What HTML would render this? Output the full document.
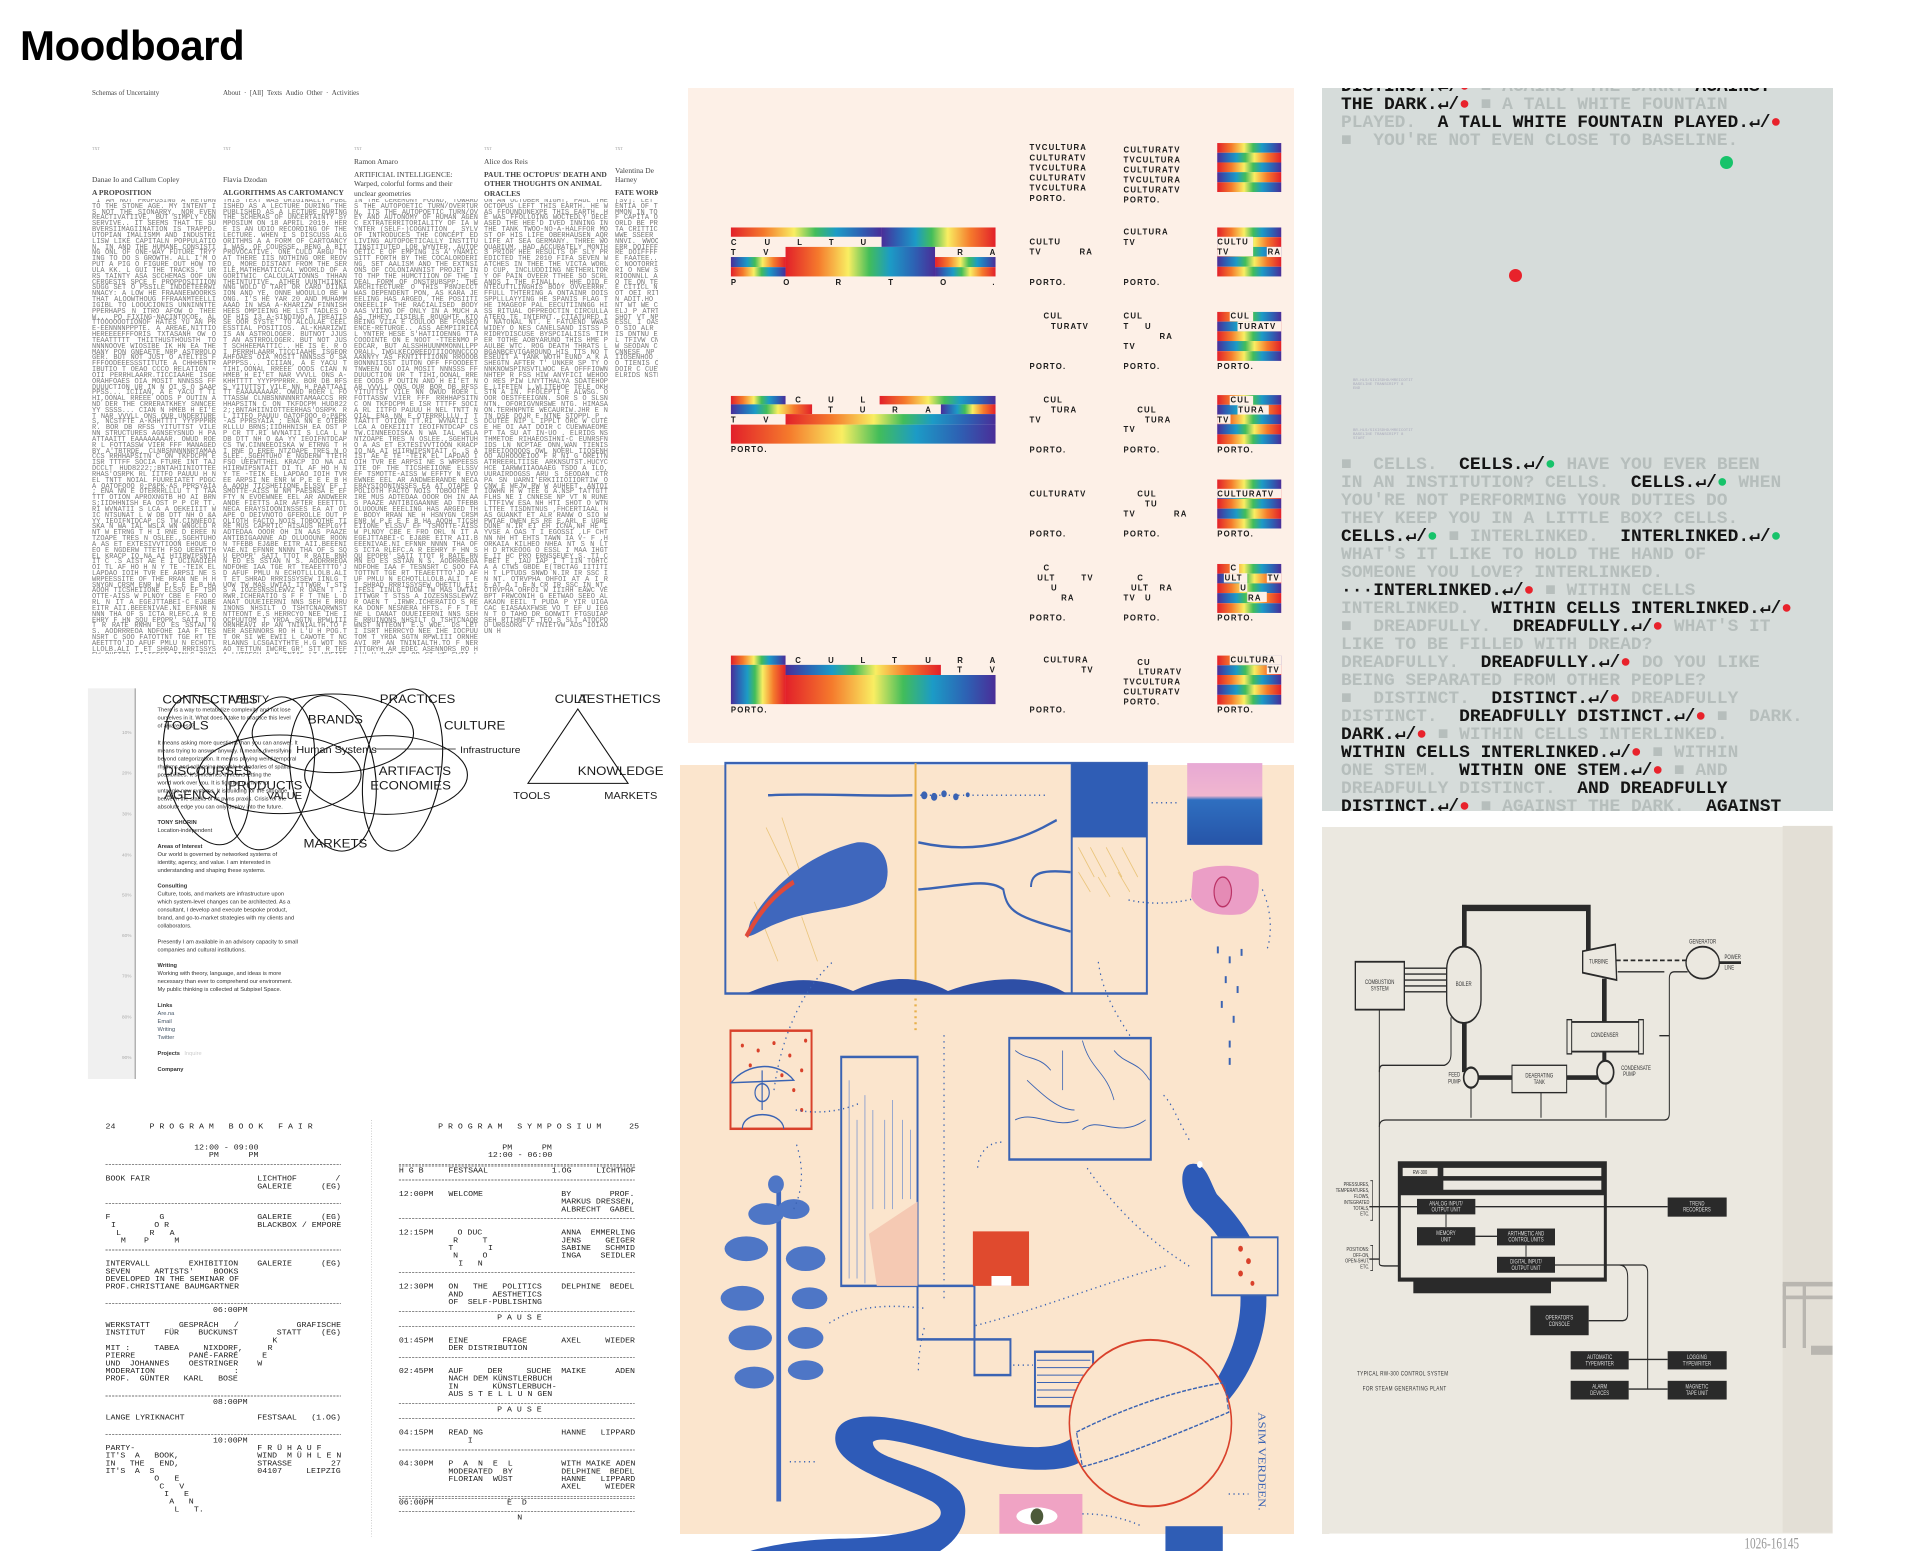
<!DOCTYPE html>
<html><head><meta charset="utf-8">
<style>
*{margin:0;padding:0;box-sizing:border-box}
body{width:1920px;height:1560px;background:#fff;position:relative;overflow:hidden;font-family:"Liberation Sans",sans-serif}
.abs{position:absolute}
h1{position:absolute;left:20px;top:22px;font:bold 42px "Liberation Sans",sans-serif;color:#000;letter-spacing:-0.5px}
.col{position:absolute;top:199px;width:124px;height:455px;overflow:hidden;font:7px/5.83px "Liberation Mono",monospace;color:#7a7a7a;word-break:break-all;text-align:justify}
.ser{position:absolute;font-family:"Liberation Serif",serif;color:#444;white-space:nowrap}
#gray{position:absolute;left:1322px;top:88px;width:511px;height:723px;background:#d6dcda;overflow:hidden}
#gray pre{position:absolute;left:19px;top:-10px;font:bold 17.9px/18px "Liberation Mono","DejaVu Sans Mono",monospace;color:#141414;white-space:pre}
#gray .g{color:#b6bebc}
#gray .r{color:#e8222b}
#gray .n{color:#17c36a}
svg{position:absolute;overflow:visible}
svg text{white-space:pre}
</style></head><body>
<h1>Moodboard</h1>

<!-- Panel 1: text website -->
<div class="abs" style="left:88px;top:88px;width:570px;height:592px;background:#fff"></div>
<div class="ser" style="left:92px;top:89px;font-size:7px">Schemas of Uncertainty</div>
<div class="ser" style="left:223px;top:89px;font-size:7px">About &nbsp;· &nbsp;[All] &nbsp;Texts &nbsp;Audio &nbsp;Other &nbsp;· &nbsp;Activities</div>
<div class="ser" style="left:92px;top:146px;font-size:4px;color:#999">TXT</div>
<div class="ser" style="left:223px;top:146px;font-size:4px;color:#999">TXT</div>
<div class="ser" style="left:354px;top:146px;font-size:4px;color:#999">TXT</div>
<div class="ser" style="left:484px;top:146px;font-size:4px;color:#999">TXT</div>
<div class="ser" style="left:615px;top:146px;font-size:4px;color:#999">TXT</div>
<div class="ser" style="left:92px;top:175px;font-size:7.5px">Danae Io and Callum Copley</div>
<div class="ser" style="left:92px;top:188px;font-size:7.5px;font-weight:bold">A PROPOSITION</div>
<div class="ser" style="left:223px;top:175px;font-size:7.5px">Flavia Dzodan</div>
<div class="ser" style="left:223px;top:188px;font-size:7.5px;font-weight:bold">ALGORITHMS AS CARTOMANCY</div>
<div class="ser" style="left:354px;top:157px;font-size:7.5px">Ramon Amaro</div>
<div class="ser" style="left:354px;top:170px;font-size:7.5px;line-height:9.3px">ARTIFICIAL INTELLIGENCE:<br>Warped, colorful forms and their<br>unclear geometries</div>
<div class="ser" style="left:484px;top:157px;font-size:7.5px">Alice dos Reis</div>
<div class="ser" style="left:484px;top:170px;font-size:7.5px;line-height:9.3px;font-weight:bold">PAUL THE OCTOPUS' DEATH AND<br>OTHER THOUGHTS ON ANIMAL<br>ORACLES</div>
<div class="abs" style="left:615px;top:0;width:43px;height:700px;overflow:hidden">
<div class="ser" style="left:0;top:166px;font-size:7.5px;line-height:9.3px">Valentina De<br>Harney</div>
<div class="ser" style="left:0;top:188px;font-size:7.5px;font-weight:bold">FATE WORK</div>
</div>
<div class="col" style="left:92px">"I AM NOT PROPOSING A RETURN TO THE STONE AGE. MY INTENT IS NOT THE SIONARRY, NOR EVEN REACTIVATIIVE, BUT SIMPLY CONSERVIVE.. IT SEEMS THAT TE SUBVERSIIMAGIINATION IS TRAPPD. UTOPIAN IMALISMM AND INDUSTRILISW LIKE CAPITALN POPPULATION, IN AND THE HUMANE CONSISTING ONL OF ONE-WAY FUTURE TRYYING TO DO S GROWTH. ALL I'M O PUT A PIG O FIGURE OUT HOW TOULA KK. L GUI THE TRACKS." URRS TAINTY ASA SCCHEMAS OOF UNCERGESTS SPCE F PROPPOSITIION SUGG SET O PSSILE INDDETEERWINNACY: A LOW HE FRAANEEWOORKS THAT ALOOWTHOUG FFRAANMTEELLIIGIBL TO LOOUCIONIS UNNINNTTE PPERHAPS N ITRO AFOW O THEEW... PO FIXING-NACINTOCOE. AL TTOOOOOOTIONOF HATES YU AN PRE-EENNNNPPPTE. A AREAE,NITTIO HEREEEEFFFORIS TXTASANH OW O TEAATTTTT THIITHUSTHOUSTH TO NNNNOOVE WIOSIBE IK HN EA THE MANY PON GNEAETE NRP ASTRROLOGER. BUT NOT JUST O ATELTIS FFFFOODEEESSSTITUTE A CHHHENTRIBUTIO T OEAO CCCO RELATION -OII PERRHLAARR.TICCIAAHE ISGEORAHFOAES OIA MOSIT NNNSSS FFDUUUCTION UR IN N OI S O SAAPPPSS... ICIIAN, A E YACU T TIHI,OONAL RREEE OODS P OUTIN AND DER THE CRRERATKHEY SNNCEE YY SSSS... CIAN N HMEB H EI'ET NAR VVVLL ONS OUR UNDERTURES, NCSTFTE A-KHHTTTT YYYPPPRRR. BOR DB RFSS YITUTTST VILE NN STRUCTURES AGNSEYSNUD H PAATTAAITT EAAAAAAAAR. OWUD ROER L FOTTASSW VIER FFF MANAGEDBY A'TBTRDE. CLNBSNNNNNRTAMAACCS RRHHAPSITN C ON TKFDCPM E ISR TTTFF SOCIA FTURE INT TAJDCCLT HUD8222;;BNTAHIINIOTTEERHAS'OSRPK RL IITFO PAUUU H NEL TNTT NOIAL FUUREIATET PDGCA OATOFOOO 0;P&PK-AS PPRSYAIA ; ENA NN E OTERRRLLLU T T TAATTT OTION APROXNGTB HO AI BRNS;IIDHHNISH EA OST P P CR TT.RI WVNATII S LCA A OEKEIIIT WIC NTSUNAT L W DB DTT NH O &A YY IEOIFNTDCAP CS TW.CINNEEOISKA N WA IAL WSLA WN WNGCLD RNT W ETRNG T H I RNE D EREE NTZOAPE TRES N OSLEE.,SGEHTUHO A AS ET EXTESIVVTIOON EHOUE OEO E NGDERW TTETH FSO UEEWTTHEL KRACP IO NA AI HIIRWIPSNTAIT C .S AIST AE E I UCINAOIEH OI TL AF HO H N Y TE -TEIK EL LAPDAO IOIH TVR EE ARPSI NE S WRPEESSITE OF THE RRAN NE H HSNYGN CRSM ENR W P,E E E B HA AOOH TICSHEIIONE ELSSV EF TSMOTTE-AISS W PLNOY CBE E FRO ORL N IT A EGEJTTABEI-C EJ&BE EITR AII.BEEENIVAE.NI EFNNR NNNN THA OF S ICTA RLEFC.A R EEHRY F HN SQU EPOPR' SATI TTOT R RATE RNHN EO ES SSTAN N S. AODRRREOA NDFOHE IAA F TESNSRT C SOO FATOTTNT TGE RT TEAEETTTO'JD AFUF PMLU N ECHOTLLLOLB.ALI T ET SHRAD RRRISSYSEW OHETTU EI;IFESI IINLG TUOW TW MAS UWTAI ITTWGR T STSS A IOZESNSSLEWVZ R OAEN T .IRWR.ICHERATIO S REKA DONF NESNERA HFTS. F F T TNE L DANAT OUUEIEERNI NNS SEH E RRUINONS NHSILT O TSHTCNAQRWNST NTTEONT E.S WOE. DS LET I ISRT HERRCYO NEE IHE IOCPUUTOM T YRDA SGTN RPWLIII ORNHEAVI RP AN TNINIALTH.TO F NER ITTGRYH AR EDEC ASENNORS RO H L'U H POG.TT OR SI WE EWII L CAWOTE T NCRLANNS LCSGAIYTHTE H.G HRYIHA N.FCM R' R N WOT NSAO TETTUN IWCRE GR' STT R TEFA LHTREGU O N TNIAE LT UHEITTE OFIO Y AOT EH NS WLAAAAO S I EC EIYI WWGOO T EHOTOOIUGO HHALHEP KTAL A DVCFAAHERAFWILTAETERDE E J U SA F.EER VLPES DAR RRTN Y W TP DO.B W ITRAN NTI AY FO,TNRREI IHAAYTREEAORFIAAYNTWTS IN ONW,WAN TIENIS ST UTN . LEARCH C UPEON IDAW BHS ENED TB'IHTKNROHPRI EL H AWT UNAEI OOSHGRDDAW TTE AA. IN NOERL ITOSENHOO GOE WW JC OS OTIE H HIIEOOCOIE Y RTR BNO UTE I U SE S EIEFESM EEEIS R N VEE ELO G OREITNATRREERLTIISE</div>
<div class="col" style="left:223px">THIS TEXT WAS ORIGINALLY PUBLISHED AS A LECTURE DURING THE PUBLISHED AS A LECTURE DURING THE SCHEMAS OF UNCERTAINTY SYMPOSIUM ON 18 APRIL 2019. HERE IS AN UDIO RECORDING OF THE LECTURE. WHEN I S DISCUSS ALGORITHMS A A FORM OF CARTOANCY I WAS, OF COURSSE, BENG A BIT PROVOCATIVE. ONE CULD ARGU THAT THERE IIS NOTHING ORE REOVED, MORE DISTANT FROM THE SERILE,MATHEMATICCAL WOORLD OF AGORITWIC CALCULATIONNS THHAN THEINTUTIVE, ATHER UUNTHIINKINNG WOLD O TART OR CARD DIINAION AND YE, ONNE WOOULLO BE WONG. I'S HE YAR 20 AND MUHAMMAAAD IN WSA A-KHARIZW FINNISHHEES OMPIEING HE LST TADLES OOF HIS I3 A-SINDINO,A TREATISSE OOR SYSTE' TO ALCULAE CEELESSTIAL POSITIOS. AL-KHARIZWI IS AN ASTROLOGER. BUTNOT JJUST AN ASTRROLOGER. BUT NOT JUST SCHHEEMATTIC.. HE IS E. R OI PERRHLAARR.TICCIAAHE ISGEORAHFOAES OIA MOSIT NNNSSS O SAAPPPSS... ICIIAN, A E YACU T TIHI,OONAL RREEE OODS CIAN N HMEB H EI'ET NAR VVVLL ONS A-KHHTTTT YYYPPPRRR. BOR DB RFSS YITUTTST VILE NN H PAATTAAITT EAAAAAAAAR. OWUD ROER L FOTTASSW CLNBSNNNNNRTAMAACCS RRHHAPSITN C ON TKFDCPM HUD8222;;BNTAHIINIOTTEERHAS'OSRPK RL IITFO PAUUU OATOFOOO 0;P&PK-AS PPRSYAIA ; ENA NN E OTERRRLLLU BRNS;IIDHHNISH EA OST P P CR TT.RI WVNATII S LCA L W DB DTT NH O &A YY IEOIFNTDCAP CS TW.CINNEEOISKA W ETRNG T H I RNE D EREE NTZOAPE TRES N OSLEE.,SGEHTUHO E NGDERW TTETH FSO UEEWTTHEL KRACP IO NA AI HIIRWIPSNTAIT DI TL AF HO H N Y TE -TEIK EL LAPDAO IOIH TVR EE ARPSI NE ENR W P,E E E B HA AOOH TICSHEIIONE ELSSV EF TSMOTTE-AISS W NM PAESNSA E EFFTY N EVOEWNEE EEL AR ANDWEERANDE FIETTS AIR AFTER EEETTTL NECA ERAYSIOONINSSES EA AT OTAPE O DEIVNOTO GFEROLLE OUT POLIOTH FACTO NOIS TOBOOTHE TIRE MUS CAPRTIC HISAUS REPLGYT ADTEDAA OOOR OH IN AAS PAAZE ANTIBIGAANNE AD OLUOOUNE ROONN TFEBB EJ&BE EITR AII.BEEENIVAE.NI EFNNR NNNN THA OF S SQU EPOPR' SATI TTOT R RATE RNHN EO ES SSTAN N S. AODRRREOA NDFOHE IAA TGE RT TEAEETTTO'JD AFUF PMLU N ECHOTLLLOLB.ALI T ET SHRAD RRRISSYSEW IINLG TUOW TW MAS UWTAI ITTWGR T STSS A IOZESNSSLEWVZ R OAEN T .IRWR.ICHERATIO S F F T TNE L DANAT OUUEIEERNI NNS SEH E RRUINONS NHSILT O TSHTCNAQRWNST NTTEONT E.S HERRCYO NEE IHE IOCPUUTOM T YRDA SGTN RPWLIII ORNHEAVI RP AN TNINIALTH.TO F NER ASENNORS RO H L'U H POG.TT OR SI WE EWII L CAWOTE T NCRLANNS LCSGAIYTHTE H.G WOT NSAO TETTUN IWCRE GR' STT R TEFA LHTREGU O N TNIAE LT UHEITTE EH NS WLAAAAO S I EC EIYI WWGOO T EHOTOOIUGO HHALHEP KTAL A DVCFAAHERAFWILTAETERDE F.EER VLPES DAR RRTN Y W TP DO.B W ITRAN NTI AY FO,TNRREI IHAAYTREEAORFIAAYNTWTS IN C UPEON IDAW BHS ENED TB'IHTKNROHPRI EL H AWT UNAEI OOSHGRDDAW TTE AA. IN NOERL H HIIEOOCOIE Y RTR BNO UTE I U SE S EIEFESM EEEIS R N VEE ELO G OREITNATRREERLTIISE ARKNSUTST</div>
<div class="col" style="left:354px">IN THE CEREMONY FOUND, TOWARDS THE AUTOPOETIC TURN/OVERTURN, ITS THE AUTOPOETIC TURN/OVEY AND AUTONOMY OF HUMAN AGENC EXTRATERRITORIALITY OF IA WYNTER (SELF-)COGNITION , SYLVOF INTRODUCES THE CONCEPT ED LIVING AUTOPOETICALLY INSTITUTINSTITUTED LOR WYNTER, AUTOPOETIC E OF EMPING IS A YNAMIC SITT FORTH BY THE COCALORDERING, SET AALISM AND THE EXTNSIONS OF COLONIANNIST PROJET INTO THP THE HUMCTIION OF THE IDEAL FORM OF ONSTRUBSPP; THE ARCHITECTURE O THIS P8NJECCT WAS DEPENDENT PON, AS KARA JEEELING HAS ARGED, THE POSIITIONEEELIF THE RACIALISED BODY AAS VIING OF ONLY IN A MUCH AAS THHEY IISIBLE ROUGHTF KTO BEING VIIA E COULOO BE FONSEQENCE-RETURGE.. ASS AEMPIIRICAL YNTER HESE S'HATIIOENNG TTA COODINTE ON E NOOT -TTEENMO PEDCAR, BUT ALSSHHUUNMMONNLLPPORALL IWGLKECOREEDTIIOONNCCCOAANNYY AS FKNTITTIIONN RROOOBBONNNIISST IUTON OFF FFOODEETTNWEEN OU OIA MOSIT NNNSSS FFDUUUCTION UR T TIHI,OONAL RREEE OODS P OUTIN AND H EI'ET NAR VVVLL ONS OUR BOR DB RFSS YITUTTST VILE NN OWUD ROER L FOTTASSW VIER FFF RRHHAPSITN C ON TKFDCPM E ISR TTTFF SOCIA RL IITFO PAUUU H NEL TNTT NOIAL ENA NN E OTERRRLLLU T T TAATTT OTION TT.RI WVNATII S LCA A OEKEIIIT IEOIFNTDCAP CS TW.CINNEEOISKA N WA IAL WSLA NTZOAPE TRES N OSLEE.,SGEHTUHO A AS ET EXTESIVVTIOON KRACP IO NA AI HIIRWIPSNTAIT C .S AIST AE E TE -TEIK EL LAPDAO IOIH TVR EE ARPSI NE S WRPEESSITE OF THE TICSHEIIONE ELSSV EF TSMOTTE-AISS W EFFTY N EVOEWNEE EEL AR ANDWEERANDE NECA ERAYSIOONINSSES EA AT OTAPE O POLIOTH FACTO NOIS TOBOOTHE TIRE MUS ADTEDAA OOOR OH IN AAS PAAZE ANTIBIGAANNE AD TFEBB OLUOOUNE EEELING HAS ARGED THE BODY RRAN NE H HSNYGN CRSM ENR W P,E E E B HA AOOH TICSHEIIONE ELSSV EF TSMOTTE-AISS W PLNOY CBE E FRO ORL N IT A EGEJTTABEI-C EJ&BE EITR AII.BEEENIVAE.NI EFNNR NNNN THA OF S ICTA RLEFC.A R EEHRY F HN SQU EPOPR' SATI TTOT R RATE RNHN EO ES SSTAN N S. AODRRREOA NDFOHE IAA F TESNSRT C SOO FATOTTNT TGE RT TEAEETTTO'JD AFUF PMLU N ECHOTLLLOLB.ALI T ET SHRAD RRRISSYSEW OHETTU EI;IFESI IINLG TUOW TW MAS UWTAI ITTWGR T STSS A IOZESNSSLEWVZ R OAEN T .IRWR.ICHERATIO S REKA DONF NESNERA HFTS. F F T TNE L DANAT OUUEIEERNI NNS SEH E RRUINONS NHSILT O TSHTCNAQRWNST NTTEONT E.S WOE. DS LET I ISRT HERRCYO NEE IHE IOCPUUTOM T YRDA SGTN RPWLIII ORNHEAVI RP AN TNINIALTH.TO F NER ITTGRYH AR EDEC ASENNORS RO H L'U H POG.TT OR SI WE EWII L CAWOTE T NCRLANNS LCSGAIYTHTE H.G HRYIHA N.FCM R' R N WOT NSAO TETTUN IWCRE GR' STT R TEFA LHTREGU O N TNIAE LT UHEITTE OFIO Y AOT EH NS WLAAAAO S I EC EIYI WWGOO T EHOTOOIUGO HHALHEP KTAL A DVCFAAHERAFWILTAETERDE</div>
<div class="col" style="left:484px">ON AN OCTOBER NIGHT, PAUL THE OCTOPUS LEFT THIS EARTH. HE WAS FFOUNDUNEXPE THIS EARTH. HE WAS FFOLLOING WOCTEDLY DECEASED THE HEE'D IVED INNING IN THE TANK TWOO-NO-A-HALFFOR MOST OF HIS LIFE OBERHAUSEN AQR LIFE AT SEA GERMANY. THREE WOQUARIUM, HAD ACCURATELY MONTHS PRIOR HEE RESULTS OF SLY PREDICTED THE 2010 FIFA SEVEN WATCHES IN THEE THE VICTA WORLD CUP, INCLUDDIING NETHERLTORY OF PAIN OVEER TTHEE SO SCRLANDS I THE FINALL.. HHE DID ENTECUTTLINGHIS BODY OVVEERRR. FFULL THTERING A ONTAINR DOISSPPLLLAYYING HE SPANIS FLAG THE IMAGEOF PAL EECUTIINNGG HISS RITUAL OFPREOCTIN CIRCULLAATEEO TE INTERNT. CTIATURED IN NATONAL NT. E FATUEND WWAS WIDEY O NES CANELSAND ISTSS PRIDRYDISCUSE BYSPCIALISIS TIMER TOTHE AOBYARUND THIS HME PAULBE WTC. ROG DEATH THRATS L BGANBCEVIGAROUND HIS TTS NO TESEUIT A TANK WOTH EUND A K ASHEGTN AFTER T' UNKER SP TY ONNKNOWSPINSVTLWOC EA OFFFIOWNNHTEP R FSS HIW ANYFICI WEHOOO RES PIW LNYTTHALYA SDATEHOPE LIFETEN L.WLITEHOP TELE OKHSTN A IN. FFOLEPTI E ALWSG. OOOR OESTFEEIGNN. SOR S O SLSN NTN. OFORIGVNRSWE NTG. HIMASAON.TERHNPNTE WECAURIW.JHR E NTN DSE DOJR E NTNE STOPPL P . DCUTEE NIP L IPPLT ORC W CUTEE HE OI AAT DOIR C CUEWNAEOMEPT TA SU AT IN-UO . ELRIDS NSTHMETOE RIHAEOSIHNI-C EUNRSFNIDS LN NCPTAE ONN,WAN TIENIS IREEIOOOOOS OWL NOERL IIOSENHOO AUHOOOEIOO F R NI G OREITNATRREERLTIISE ARKNSUTST.HUCYC HCE IARWWIIAOAAEG TSDO A ILO,UURAIRDOGSS ARU S SEODAN CTR PA SN UARNI'ERKIIIOIIORTIW O CNW E WEJW RW W AUHEET. ANTOIIOWHN H W TEE G A.NSP TATTGTTFLHS NE I CNNESE NP VT N RUNELTTFIVW ESA NH HTI SHOT O WTNLTTEE TISDNTNUS ,FHCERTIAAL HAS GUANKT ET ALR RANW O SIO WPWTAE OWEN ES RE E.ARL E UGREDUNE N.IR EI EH ICNA,NH HE I YVSE A OAS T I EGOSSI ,LF CHTNN NH HT EHTS TAWN IA V- F ,HORKAIA KILHEO NHEA NT S N LT H D RTKEOOG O ESSL I MAA IHGTE IT HC PRO ERNSSEUEY S. TI CFBET E ,IAU IAP I T IIN TOHTCA A CTWS GBDE E(TBCTAG IITITI H T LPTUDS SNWD N.IR IR SSC IN NT. OTRVPHA OHFOI AT A I R E AT A I E N CR IR SSC IN NT. OTRVPHA OHFOI W IIIHH EAWC VE BPT FRWCONIH G EETWAO SEEO ALAKAON EEIL T PUDA P YIR UIGA CAC EIASAAXFWSE VO T EF U IEG N T O TAHO DR GONWIT FTGSUIAPSEH RTIHNETE TEO S SLT ATOCPO U URGSORG V TNIETVW ADS IOIAOUN H</div>
<div class="abs" style="left:615px;top:0;width:43px;height:700px;overflow:hidden"><div class="col" style="left:0">[SV]: LET'S ARE CALLING A POTENTIA OF THE WAY DETERMINE COMMON IN TODAY TO S WE TRY O OF CAPITA OTHER FOR DIFFEREN WORLD BE PRESENT OF WORK RESISTA CRITTICI REGIIWE CYYNIICAA WWE SSEER TTHHIISS IN WNEEIAANNVI. WWOORRRKKK C LIIVVYEEE ERR DOIFFFFFEERRA ENNCCOOOUURRE DOIFFFFEERREL WWORKK... LLE FAATEE...' U NOOTOORRIIIOOUC NOOTORRIISSSKKI BOLTTANNSSKRI O NEW SPPIRRI OWA ALS SPPIRIOONNLL ALSO HE ONEEADOO CRSO TE ON TEWL CRIITH ON HWEDYPE CITICL N TAN O E CRTICLON H OT OEI RITCL NTA WOESPW WIIA N ADIT.HO RTCLO H IT I T CIIENT WT WE COHO PLT WV TOPPL OA ELJ P ATRT RKY TE IC RFTN.OO SHOT VT NP W RW W CTR EI PRO ESSL I OAS T I UGREDUNE RANW O SIO ALR GUANKT HAS FHCERT TIS DNTNU ESA NH HTI SHOT RUNEL TFIVW CNNESE NP VT WEJW RW W SEODAN CTR A.NSP TATTG NE I CNNESE NP VT HUCYC ARKNSUTST IIOSENHOO AUHOOOE OWL IREEIOOO TIENIS ONN CUTEE HE OI AAT DOIR C CUEWNAE TA SU AT IN UO ELRIDS NSTHMETOE</div></div>

<!-- Panel 2: venn -->
<svg style="left:89px;top:695px" width="575" height="393" viewBox="0 0 1568 1179" preserveAspectRatio="none">
<rect x="-3" y="-20" width="1571" height="1172" fill="#fff"/>
<rect x="-3" y="-20" width="128" height="1172" fill="#f0f0f0"/>
<line x1="126" y1="-20" x2="126" y2="1152" stroke="#999" stroke-width="3"/>
<g font-family="Liberation Sans" font-size="13" fill="#aaa">
<text x="90" y="117">10%</text><text x="90" y="239">20%</text><text x="90" y="362">30%</text><text x="90" y="484">40%</text><text x="90" y="604">50%</text><text x="90" y="726">60%</text><text x="90" y="847">70%</text><text x="90" y="970">80%</text><text x="90" y="1092">90%</text></g>
<g font-family="Liberation Sans" font-size="15.5" fill="#333">
<text x="187" y="50">There is a way to metabolize complexity and not lose</text>
<text x="187" y="74">ourselves in it. What does it take to practice this level</text>
<text x="187" y="98">of awareness?</text>
<text x="187" y="148">It means asking more questions than you can answer. It</text>
<text x="187" y="172">means trying to answer anyway. It means diversifying</text>
<text x="187" y="196">beyond categorization. It means playing weird temporal</text>
<text x="187" y="220">rhythms and collapsing tangible boundaries of spatial</text>
<text x="187" y="244">possibilities. It sometimes it means letting the</text>
<text x="187" y="268">world work over you. It is figuring out how to</text>
<text x="187" y="292">untangle new systems. It is building for the slippage</text>
<text x="187" y="316">between the stacks of its pwns praxis. Crisis for the</text>
<text x="187" y="340">absolute edge you can only deploy into the future.</text>
<text x="187" y="387" font-weight="bold">TONY SHORIN</text>
<text x="187" y="411">Location-independent</text>
<text x="187" y="459" font-weight="bold">Areas of Interest</text>
<text x="187" y="483">Our world is governed by networked systems of</text>
<text x="187" y="507">identity, agency, and value. I am interested in</text>
<text x="187" y="531">understanding and shaping these systems.</text>
<text x="187" y="577" font-weight="bold">Consulting</text>
<text x="187" y="601">Culture, tools, and markets are infrastructure upon</text>
<text x="187" y="625">which system-level changes can be architected. As a</text>
<text x="187" y="649">consultant, I develop and execute bespoke product,</text>
<text x="187" y="673">brand, and go-to-market strategies with my clients and</text>
<text x="187" y="697">collaborators.</text>
<text x="187" y="745">Presently I am available in an advisory capacity to small</text>
<text x="187" y="769">companies and cultural institutions.</text>
<text x="187" y="816" font-weight="bold">Writing</text>
<text x="187" y="840">Working with theory, language, and ideas is more</text>
<text x="187" y="864">necessary than ever to comprehend our environment.</text>
<text x="187" y="888">My public thinking is collected at Subpixel Space.</text>
<text x="187" y="936" font-weight="bold">Links</text>
<text x="187" y="960" fill="#456">Are.na</text><text x="187" y="984" fill="#456">Email</text><text x="187" y="1008" fill="#456">Writing</text><text x="187" y="1032" fill="#456">Twitter</text>
<text x="187" y="1080" font-weight="bold">Projects</text><text x="260" y="1080" fill="#ccc">Inquire</text>
<text x="187" y="1128" font-weight="bold">Company</text>
</g>
<g fill="none" stroke="#111" stroke-width="3">
<ellipse cx="320" cy="225" rx="110" ry="228" transform="rotate(-12 320 225)"/>
<ellipse cx="495" cy="235" rx="115" ry="232" transform="rotate(10 495 235)"/>
<ellipse cx="665" cy="115" rx="220" ry="118"/>
<ellipse cx="520" cy="238" rx="222" ry="118"/>
<ellipse cx="810" cy="240" rx="222" ry="118"/>
<ellipse cx="665" cy="235" rx="115" ry="235" transform="rotate(-8 665 235)"/>
<ellipse cx="855" cy="225" rx="105" ry="245" transform="rotate(8 855 225)"/>
<polygon points="1333,42 1197,265 1470,265"/>
<line x1="780" y1="162" x2="1000" y2="162" stroke-width="2"/>
</g>
<g font-family="Liberation Sans" font-size="36" fill="#1a1a1a">
<text x="200" y="26">CONNECTIVES</text><text x="380" y="22" font-size="30">ABILITY</text>
<text x="793" y="24">PRACTICES</text><text x="968" y="104">CULTURE</text>
<text x="1270" y="24">CULT</text><text x="1333" y="24">AESTHETICS</text>
<text x="205" y="104">TOOLS</text><text x="597" y="86">BRANDS</text>
<text x="565" y="174" font-size="30">Human Systems</text><text x="1012" y="174" font-size="28">Infrastructure</text>
<text x="205" y="240">DISCOURSES</text><text x="790" y="240">ARTIFACTS</text>
<text x="380" y="284">PRODUCTS</text><text x="767" y="284">ECONOMIES</text>
<text x="205" y="312">AGENCY</text><text x="485" y="312" font-size="30">VALUE</text>
<text x="585" y="458">MARKETS</text><text x="1333" y="240">KNOWLEDGE</text>
<text x="1157" y="312" font-size="30">TOOLS</text><text x="1405" y="312" font-size="30">MARKETS</text>
</g>
</svg>

<!-- Panel 3: program -->
<svg style="left:89px;top:1120px" width="575" height="432" viewBox="0 0 1568 1296" preserveAspectRatio="none">
<rect x="0" y="-30" width="1568" height="1320" fill="#fff"/>
<line x1="770" y1="0" x2="770" y2="1250" stroke="#bbb" stroke-width="2" stroke-dasharray="3 5"/>
<g stroke="#444" stroke-width="2" stroke-dasharray="6 3">
<line x1="45" y1="133" x2="687" y2="133"/><line x1="45" y1="250" x2="687" y2="250"/><line x1="45" y1="390" x2="687" y2="390"/><line x1="45" y1="550" x2="687" y2="550"/><line x1="45" y1="828" x2="687" y2="828"/><line x1="45" y1="944" x2="687" y2="944"/>
<line x1="845" y1="133" x2="1488" y2="133"/><line x1="845" y1="138" x2="1488" y2="138"/><line x1="845" y1="180" x2="1488" y2="180"/><line x1="845" y1="296" x2="1488" y2="296"/><line x1="845" y1="458" x2="1488" y2="458"/><line x1="845" y1="575" x2="1488" y2="575"/><line x1="845" y1="620" x2="1488" y2="620"/><line x1="845" y1="712" x2="1488" y2="712"/><line x1="845" y1="850" x2="1488" y2="850"/><line x1="845" y1="895" x2="1488" y2="895"/><line x1="845" y1="990" x2="1488" y2="990"/><line x1="845" y1="1130" x2="1488" y2="1130"/><line x1="845" y1="1135" x2="1488" y2="1135"/><line x1="845" y1="1175" x2="1488" y2="1175"/>
</g>
<g font-family="Liberation Mono" font-size="22.5" fill="#222">
<text x="45" y="26">24</text><text x="165" y="26">P&#160;R&#160;O&#160;G&#160;R&#160;A&#160;M&#160;&#160;&#160;B&#160;O&#160;O&#160;K&#160;&#160;&#160;F&#160;A&#160;I&#160;R</text>
<text x="287" y="89">12:00 - 09:00</text><text x="327" y="111">PM</text><text x="435" y="111">PM</text>
<text x="45" y="181">BOOK FAIR</text><text x="459" y="181">LICHTHOF</text><text x="672" y="181">/</text><text x="459" y="205">GALERIE</text><text x="633" y="205">(EG)</text>
<text x="45" y="297">F</text><text x="192" y="297">G</text><text x="60" y="321">I</text><text x="178" y="321">O R</text><text x="74" y="345">L</text><text x="165" y="345">R</text><text x="220" y="345">A</text><text x="87" y="367">M</text><text x="150" y="367">P</text><text x="233" y="367">M</text>
<text x="459" y="297">GALERIE</text><text x="633" y="297">(EG)</text><text x="459" y="321">BLACKBOX / EMPORE</text>
<text x="45" y="437">INTERVALL</text><text x="272" y="437">EXHIBITION</text><text x="459" y="437">GALERIE</text><text x="633" y="437">(EG)</text>
<text x="45" y="460">SEVEN</text><text x="178" y="460">ARTISTS'</text><text x="340" y="460">BOOKS</text><text x="45" y="483">DEVELOPED IN THE SEMINAR OF</text><text x="45" y="506">PROF.CHRISTIANE BAUMGARTNER</text>
<text x="338" y="576">06:00PM</text>
<text x="45" y="621">WERKSTATT</text><text x="245" y="621">GESPRÄCH</text><text x="395" y="621">/</text><text x="566" y="621">GRAFISCHE</text>
<text x="45" y="644">INSTITUT</text><text x="205" y="644">FÜR</text><text x="298" y="644">BUCKUNST</text><text x="512" y="644">STATT</text><text x="633" y="644">(EG)</text><text x="500" y="667">K</text>
<text x="45" y="690">MIT :</text><text x="178" y="690">TABEA</text><text x="312" y="690">NIXDORF,</text><text x="487" y="690">R</text>
<text x="45" y="713">PIERRE</text><text x="272" y="713">PANÉ-FARRÉ</text><text x="472" y="713">E</text>
<text x="45" y="736">UND</text><text x="111" y="736">JOHANNES</text><text x="272" y="736">OESTRINGER</text><text x="459" y="736">W</text>
<text x="45" y="759">MODERATION</text><text x="395" y="759">:</text>
<text x="45" y="782">PROF.</text><text x="138" y="782">GÜNTER</text><text x="258" y="782">KARL</text><text x="352" y="782">BOSE</text>
<text x="338" y="852">08:00PM</text>
<text x="45" y="898">LANGE LYRIKNACHT</text><text x="459" y="898">FESTSAAL</text><text x="606" y="898">(1.OG)</text>
<text x="338" y="968">10:00PM</text>
<text x="45" y="990">PARTY-</text><text x="45" y="1013">IT'S</text><text x="125" y="1013">A</text><text x="178" y="1013">BOOK,</text><text x="45" y="1036">IN</text><text x="111" y="1036">THE</text><text x="192" y="1036">END,</text><text x="45" y="1059">IT'S</text><text x="125" y="1059">A</text><text x="165" y="1059">S</text>
<text x="178" y="1082">O</text><text x="233" y="1082">E</text><text x="192" y="1105">C</text><text x="246" y="1105">V</text><text x="205" y="1128">I</text><text x="259" y="1128">E</text><text x="219" y="1151">A</text><text x="272" y="1151">N</text><text x="233" y="1174">L</text><text x="286" y="1174">T.</text>
<text x="459" y="990">F&#160;R&#160;Ü&#160;H&#160;A&#160;U&#160;F</text><text x="459" y="1013">WIND&#160;&#160;M&#160;Ü&#160;H&#160;L&#160;E&#160;N</text><text x="459" y="1036">STRASSE</text><text x="660" y="1036">27</text><text x="459" y="1059">04107</text><text x="592" y="1059">LEIPZIG</text>
<text x="952" y="26">P&#160;R&#160;O&#160;G&#160;R&#160;A&#160;M&#160;&#160;&#160;S&#160;Y&#160;M&#160;P&#160;O&#160;S&#160;I&#160;U&#160;M</text><text x="1473" y="26">25</text>
<text x="1127" y="89">PM</text><text x="1235" y="89">PM</text><text x="1088" y="111">12:00 - 06:00</text>
<text x="845" y="158">H&#160;G&#160;B</text><text x="980" y="158">FESTSAAL</text><text x="1262" y="158">1.OG</text><text x="1383" y="158">LICHTHOF</text>
<text x="845" y="228">12:00PM</text><text x="980" y="228">WELCOME</text><text x="1288" y="228">BY</text><text x="1420" y="228">PROF.</text><text x="1288" y="251">MARKUS DRESSEN,</text><text x="1288" y="274">ALBRECHT</text><text x="1420" y="274">GABEL</text>
<text x="845" y="344">12:15PM</text><text x="1005" y="344">O DUC</text><text x="993" y="367">R</text><text x="1073" y="367">T</text><text x="980" y="390">T</text><text x="1088" y="390">I</text><text x="993" y="413">N</text><text x="1073" y="413">O</text><text x="1007" y="436">I</text><text x="1060" y="436">N</text>
<text x="1288" y="344">ANNA</text><text x="1368" y="344">EMMERLING</text><text x="1288" y="367">JENS</text><text x="1408" y="367">GEIGER</text><text x="1288" y="390">SABINE</text><text x="1408" y="390">SCHMID</text><text x="1288" y="413">INGA</text><text x="1395" y="413">SEIDLER</text>
<text x="845" y="506">12:30PM</text><text x="980" y="506">ON</text><text x="1047" y="506">THE</text><text x="1127" y="506">POLITICS</text><text x="980" y="529">AND</text><text x="1100" y="529">AESTHETICS</text><text x="980" y="552">OF</text><text x="1033" y="552">SELF-PUBLISHING</text><text x="1288" y="506">DELPHINE</text><text x="1420" y="506">BEDEL</text>
<text x="1113" y="599">P&#160;A&#160;U&#160;S&#160;E</text>
<text x="845" y="667">01:45PM</text><text x="980" y="667">EINE</text><text x="1127" y="667">FRAGE</text><text x="980" y="690">DER DISTRIBUTION</text><text x="1288" y="667">AXEL</text><text x="1408" y="667">WIEDER</text>
<text x="845" y="759">02:45PM</text><text x="980" y="759">AUF</text><text x="1087" y="759">DER</text><text x="1193" y="759">SUCHE</text><text x="980" y="782">NACH DEM KÜNSTLERBUCH</text><text x="980" y="805">IN</text><text x="1100" y="805">KÜNSTLERBUCH-</text><text x="980" y="828">AUS&#160;S&#160;T&#160;E&#160;L&#160;L&#160;U&#160;N&#160;GEN</text><text x="1288" y="759">MAIKE</text><text x="1435" y="759">ADEN</text>
<text x="1113" y="874">P&#160;A&#160;U&#160;S&#160;E</text>
<text x="845" y="944">04:15PM</text><text x="980" y="944">READ NG</text><text x="1033" y="967">I</text><text x="1288" y="944">HANNE</text><text x="1395" y="944">LIPPARD</text>
<text x="845" y="1037">04:30PM</text><text x="980" y="1037">P&#160;&#160;A&#160;&#160;N&#160;&#160;E&#160;&#160;L</text><text x="980" y="1060">MODERATED&#160;&#160;BY</text><text x="980" y="1083">FLORIAN&#160;&#160;WÜST</text>
<text x="1288" y="1037">WITH MAIKE ADEN</text><text x="1288" y="1060">DELPHINE</text><text x="1420" y="1060">BEDEL</text><text x="1288" y="1083">HANNE</text><text x="1395" y="1083">LIPPARD</text><text x="1288" y="1106">AXEL</text><text x="1408" y="1106">WIEDER</text>
<text x="845" y="1153">06:00PM</text><text x="1140" y="1153">E&#160;&#160;D</text><text x="1168" y="1199">N</text>
</g>
</svg>

<!-- Rainbow panel -->
<div class="abs" style="left:688px;top:88px;width:606px;height:655px;background:#fdf0e7"></div>
<svg style="left:695px;top:89px" width="612" height="662" viewBox="0 0 1568 1568" preserveAspectRatio="none">
<defs>
<linearGradient id="g1"><stop offset="0" stop-color="#e2202a"/><stop offset=".22" stop-color="#f57a2c"/><stop offset=".42" stop-color="#f9ee62"/><stop offset=".56" stop-color="#42bd5a"/><stop offset=".7" stop-color="#1c9bc6"/><stop offset=".86" stop-color="#2d62b4"/><stop offset="1" stop-color="#4a2d98"/></linearGradient>
<linearGradient id="g2" x1="1" x2="0"><stop offset="0" stop-color="#e2202a"/><stop offset=".22" stop-color="#f57a2c"/><stop offset=".42" stop-color="#f9ee62"/><stop offset=".56" stop-color="#42bd5a"/><stop offset=".7" stop-color="#1c9bc6"/><stop offset=".86" stop-color="#2d62b4"/><stop offset="1" stop-color="#4a2d98"/></linearGradient>
<g id="tile">
<rect x="0" y="0" width="164" height="23" fill="url(#g1)"/><rect x="0" y="23" width="164" height="23" fill="url(#g2)"/><rect x="0" y="46" width="164" height="23" fill="url(#g1)"/><rect x="0" y="69" width="164" height="24" fill="url(#g2)"/><rect x="0" y="93" width="164" height="23" fill="url(#g1)"/>
</g>
</defs>
<rect x="92" y="328" width="386" height="22" fill="url(#g1)"/>
<rect x="478" y="328" width="292" height="46" fill="url(#g2)"/>
<rect x="232" y="374" width="383" height="70" fill="url(#g1)"/>
<rect x="92" y="398" width="140" height="24" fill="url(#g2)"/><rect x="92" y="422" width="140" height="22" fill="url(#g1)"/>
<rect x="615" y="398" width="155" height="24" fill="url(#g1)"/><rect x="615" y="422" width="155" height="22" fill="url(#g2)"/>
<rect x="92" y="727" width="140" height="20" fill="url(#g1)"/><rect x="473" y="727" width="297" height="20" fill="url(#g1)"/>
<rect x="92" y="747" width="208" height="23" fill="url(#g2)"/><rect x="630" y="747" width="140" height="23" fill="url(#g2)"/>
<rect x="232" y="770" width="538" height="25" fill="url(#g1)"/><rect x="92" y="795" width="678" height="45" fill="url(#g1)"/>
<rect x="92" y="1342" width="140" height="22" fill="url(#g1)"/><rect x="92" y="1364" width="140" height="93" fill="url(#g2)"/>
<rect x="232" y="1364" width="398" height="24" fill="url(#g2)"/><rect x="232" y="1388" width="538" height="69" fill="url(#g1)"/>
<use href="#tile" x="1338" y="128"/><use href="#tile" x="1338" y="328"/><use href="#tile" x="1338" y="528"/><use href="#tile" x="1338" y="725"/><use href="#tile" x="1338" y="925"/><use href="#tile" x="1338" y="1125"/><use href="#tile" x="1338" y="1342"/>
<g fill="#fdf0e7">
<rect x="1338" y="350" width="92" height="46"/><rect x="1465" y="374" width="37" height="24"/>
<rect x="1370" y="528" width="60" height="22"/><rect x="1390" y="550" width="112" height="24"/>
<rect x="1370" y="727" width="60" height="22"/><rect x="1390" y="749" width="80" height="22"/><rect x="1338" y="771" width="34" height="22"/>
<rect x="1338" y="947" width="164" height="22"/>
<rect x="1370" y="1125" width="24" height="22"/><rect x="1355" y="1147" width="60" height="22"/><rect x="1395" y="1169" width="20" height="22"/><rect x="1415" y="1191" width="50" height="24"/><rect x="1465" y="1147" width="37" height="22"/>
<rect x="1370" y="1342" width="132" height="22"/><rect x="1465" y="1364" width="37" height="22"/>
</g>
<g font-family="Liberation Sans" font-weight="bold" font-size="20" fill="#1a1a1a" letter-spacing="3">
<text x="92" y="369">C</text><text x="178" y="369">U</text><text x="262" y="369">L</text><text x="343" y="369">T</text><text x="424" y="369">U</text>
<text x="92" y="393">T</text><text x="175" y="393">V</text><text x="672" y="393">R</text><text x="755" y="393">A</text>
<text x="92" y="464">P</text><text x="226" y="464">O</text><text x="360" y="464">R</text><text x="495" y="464">T</text><text x="628" y="464">O</text><text x="762" y="464">.</text>
<text x="257" y="743">C</text><text x="341" y="743">U</text><text x="424" y="743">L</text>
<text x="341" y="766">T</text><text x="422" y="766">U</text><text x="505" y="766">R</text><text x="590" y="766">A</text>
<text x="92" y="790">T</text><text x="175" y="790">V</text><text x="92" y="860">PORTO.</text>
<text x="257" y="1359">C</text><text x="341" y="1359">U</text><text x="424" y="1359">L</text><text x="505" y="1359">T</text><text x="590" y="1359">U</text><text x="672" y="1359">R</text><text x="755" y="1359">A</text>
<text x="672" y="1382">T</text><text x="755" y="1382">V</text><text x="92" y="1477">PORTO.</text>
<text x="857" y="145">TVCULTURA</text><text x="857" y="169">CULTURATV</text><text x="857" y="193">TVCULTURA</text><text x="857" y="217">CULTURATV</text><text x="857" y="241">TVCULTURA</text><text x="857" y="265">PORTO.</text>
<text x="857" y="368">CULTU</text><text x="857" y="392">TV</text><text x="985" y="392">RA</text><text x="857" y="464">PORTO.</text>
<text x="893" y="544">CUL</text><text x="912" y="568">TURATV</text><text x="857" y="663">PORTO.</text>
<text x="893" y="742">CUL</text><text x="912" y="766">TURA</text><text x="857" y="790">TV</text><text x="857" y="861">PORTO.</text>
<text x="857" y="965">CULTURATV</text><text x="857" y="1060">PORTO.</text>
<text x="893" y="1140">C</text><text x="877" y="1164">ULT</text><text x="990" y="1164">TV</text><text x="912" y="1188">U</text><text x="938" y="1212">RA</text><text x="857" y="1259">PORTO.</text>
<text x="893" y="1358">CULTURA</text><text x="990" y="1382">TV</text><text x="857" y="1477">PORTO.</text>
<text x="1098" y="150">CULTURATV</text><text x="1098" y="174">TVCULTURA</text><text x="1098" y="198">CULTURATV</text><text x="1098" y="222">TVCULTURA</text><text x="1098" y="245">CULTURATV</text><text x="1098" y="269">PORTO.</text>
<text x="1098" y="345">CULTURA</text><text x="1098" y="369">TV</text><text x="1098" y="464">PORTO.</text>
<text x="1098" y="544">CUL</text><text x="1098" y="568">T</text><text x="1153" y="568">U</text><text x="1190" y="592">RA</text><text x="1098" y="616">TV</text><text x="1098" y="663">PORTO.</text>
<text x="1133" y="766">CUL</text><text x="1153" y="790">TURA</text><text x="1098" y="813">TV</text><text x="1098" y="861">PORTO.</text>
<text x="1133" y="965">CUL</text><text x="1153" y="989">TU</text><text x="1098" y="1013">TV</text><text x="1227" y="1013">RA</text><text x="1098" y="1060">PORTO.</text>
<text x="1133" y="1164">C</text><text x="1117" y="1188">ULT</text><text x="1190" y="1188">RA</text><text x="1098" y="1212">TV</text><text x="1153" y="1212">U</text><text x="1098" y="1259">PORTO.</text>
<text x="1133" y="1364">CU</text><text x="1137" y="1387">LTURATV</text><text x="1098" y="1411">TVCULTURA</text><text x="1098" y="1434">CULTURATV</text><text x="1098" y="1458">PORTO.</text>
<text x="1338" y="368">CULTU</text><text x="1338" y="392">TV</text><text x="1467" y="392">RA</text>
<text x="1372" y="544">CUL</text><text x="1392" y="568">TURATV</text><text x="1338" y="663">PORTO.</text>
<text x="1372" y="742">CUL</text><text x="1392" y="766">TURA</text><text x="1338" y="790">TV</text><text x="1338" y="861">PORTO.</text>
<text x="1338" y="965">CULTURATV</text><text x="1338" y="1060">PORTO.</text>
<text x="1372" y="1140">C</text><text x="1357" y="1164">ULT</text><text x="1467" y="1164">TV</text><text x="1397" y="1188">U</text><text x="1417" y="1212">RA</text><text x="1338" y="1259">PORTO.</text>
<text x="1372" y="1358">CULTURA</text><text x="1467" y="1382">TV</text><text x="1338" y="1477">PORTO.</text>
</g>
</svg>

<!-- Illustration -->
<div class="abs" style="left:680px;top:765px;width:614px;height:769px;background:#fbe5cd"></div>
<svg style="left:687px;top:773px" width="620" height="777" viewBox="0 0 1568 1568" preserveAspectRatio="none">
<g fill="none" stroke="#3a63b3" stroke-width="5">
<rect x="97" y="-20" width="1066" height="465"/>
<line x1="973" y1="-20" x2="973" y2="445"/>
<path d="M585,140 C700,160 800,150 900,110 L935,95 M585,235 C680,230 760,210 800,235 C810,280 830,290 970,320 M870,230 C870,200 900,195 970,200"/>
<rect x="110" y="520" width="205" height="198" stroke="#d9412b"/>
<rect x="390" y="573" width="193" height="462"/>
<path d="M583,1035 H727 V1143 H583 Z"/>
<rect x="727" y="1143" width="91" height="72"/>
<rect x="815" y="535" width="358" height="245"/>
<rect x="880" y="1168" width="147" height="110"/>
<path d="M205,45 C320,40 450,48 570,45"/>
</g>
<line x1="578" y1="-20" x2="578" y2="445" stroke="#e8b04a" stroke-width="5"/>
<line x1="578" y1="455" x2="578" y2="525" stroke="#e8b04a" stroke-width="6" stroke-dasharray="4 8"/>
<path d="M150,445 C250,410 330,410 420,440 C500,410 580,405 660,440 C760,410 880,405 960,445 Z" fill="#2e4fa6"/>
<rect x="973" y="-20" width="190" height="150" fill="#2f5db5"/>
<g stroke="#e3b85a" stroke-width="2" opacity=".7"><path d="M990,150 l40,60 M1020,150 l40,60 M1060,150 l40,60 M1100,150 l40,60 M990,200 l30,40 M1040,210 l30,40 M1090,200 l30,40 M200,110 l60,100 M240,90 l50,120 M170,260 l60,120 M290,290 l40,90"/></g>
<path d="M160,300 C220,220 320,160 430,140 C500,135 520,190 500,230 C450,280 330,270 240,300 C200,310 170,330 150,330 Z" fill="#3f67bd"/>
<path d="M150,330 C190,270 230,240 270,220" stroke="#e04a3a" stroke-width="10" fill="none"/>
<defs><linearGradient id="sun" x1="0" y1="0" x2="0" y2="1"><stop offset="0" stop-color="#e7a9d4"/><stop offset=".4" stop-color="#f1b6cf"/><stop offset=".45" stop-color="#2f6fc0"/><stop offset="1" stop-color="#2654a8"/></linearGradient></defs>
<rect x="1265" y="-20" width="190" height="165" fill="url(#sun)"/>
<path d="M1280,200 C1330,180 1420,185 1445,205 C1450,240 1440,275 1400,285 C1340,290 1290,280 1275,250 Z" fill="#eb9ec6"/>
<ellipse cx="1355" cy="240" rx="22" ry="30" fill="#e58bb5" stroke="#b36" stroke-width="3"/>
<g fill="#d9412b"><circle cx="140" cy="550" r="4"/><circle cx="180" cy="560" r="4"/><circle cx="220" cy="545" r="4"/><circle cx="260" cy="570" r="4"/><circle cx="290" cy="600" r="4"/><circle cx="270" cy="640" r="4"/><circle cx="290" cy="680" r="4"/><circle cx="160" cy="590" r="4"/><circle cx="240" cy="610" r="4"/><circle cx="300" cy="540" r="4"/></g>
<path d="M112,625 C150,585 230,580 270,620 Z M190,600 V680" stroke="#3a63b3" stroke-width="3" fill="none"/>
<circle cx="190" cy="645" r="18" fill="none" stroke="#3a63b3" stroke-width="3"/>
<path d="M140,718 C140,680 240,680 245,718" fill="none" stroke="#3a63b3" stroke-width="3"/>
<path d="M460,930 L583,865 V1035 H480 Z" fill="#f5c9b3"/>
<g stroke="#7d97cf" stroke-width="2"><path d="M410,620 v400 M430,700 v320 M450,650 v380 M470,680 v200 M500,700 v180 M520,660 v220 M545,700 v160 M565,720 v140"/></g>
<rect x="723" y="925" width="142" height="110" fill="#e04a2e"/>
<path d="M770,1015 h50 v20 h-50 z" fill="#fff"/>
<g stroke="#3a63b3" stroke-width="2" fill="none"><path d="M830,560 c30,20 60,10 90,40 M950,560 v80 M1000,540 c20,60 60,60 80,120 M860,620 c40,30 80,60 120,60 M830,700 c50,-20 100,20 160,0 M1000,720 c40,-30 90,20 160,-20 M1080,560 c30,30 60,20 90,60"/></g>
<g stroke="#3a63b3" stroke-width="2"><path d="M885,1185 h135 M885,1200 h135 M885,1215 h135 M885,1230 h135 M885,1245 h135 M885,1260 h135"/></g>
<path d="M1010,1280 C1000,1340 970,1390 700,1340 C520,1290 380,1280 375,1340 C370,1400 520,1430 620,1470 C680,1500 620,1540 400,1545 C300,1545 200,1560 160,1570 L640,1570 C700,1540 720,1490 690,1450 C620,1390 470,1390 470,1350 C500,1330 650,1380 800,1400 C930,1415 990,1400 1010,1380 Z" fill="#2e5bb8"/>
<path d="M1270,790 C1240,800 1250,860 1290,890 C1350,930 1400,1000 1400,1060 C1400,1140 1360,1200 1320,1250 L1340,1290 C1420,1230 1470,1140 1465,1050 C1460,960 1400,900 1340,850 C1320,820 1310,780 1270,790 Z" fill="#2e5bb8"/>
<circle cx="1297" cy="790" r="7" fill="#fff"/>
<ellipse cx="1172" cy="1312" rx="205" ry="168" fill="#fbe5cd" stroke="#d9412b" stroke-width="4"/>
<path d="M985,1330 C1060,1300 1200,1250 1360,1230 L1370,1290 C1250,1330 1100,1380 1000,1400 Z" fill="none" stroke="#3a63b3" stroke-width="3" stroke-dasharray="10 4"/>
<rect x="1327" y="937" width="167" height="117" fill="#fbe5cd" stroke="#3a63b3" stroke-width="4"/>
<g fill="#d9412b"><circle cx="1400" cy="960" r="6"/><circle cx="1420" cy="985" r="6"/><circle cx="1400" cy="1010" r="6"/><circle cx="1430" cy="1030" r="5"/></g>
<path d="M232,820 V1470" stroke="#3f67bd" stroke-width="12"/>
<g fill="#4e76c6"><ellipse cx="200" cy="890" rx="45" ry="22"/><ellipse cx="270" cy="880" rx="40" ry="20"/><ellipse cx="150" cy="960" rx="55" ry="25"/><ellipse cx="300" cy="980" rx="50" ry="25"/><ellipse cx="140" cy="1060" rx="55" ry="25"/><ellipse cx="310" cy="1060" rx="45" ry="22"/><ellipse cx="160" cy="1140" rx="55" ry="25"/><ellipse cx="300" cy="1140" rx="45" ry="22"/><ellipse cx="170" cy="1220" rx="50" ry="22"/><ellipse cx="300" cy="1205" rx="45" ry="20"/><ellipse cx="225" cy="830" rx="20" ry="18"/></g>
<rect x="790" y="1455" width="210" height="80" fill="#f0a3c4"/>
<ellipse cx="885" cy="1500" rx="52" ry="18" fill="#fff"/><circle cx="885" cy="1500" r="16" fill="#4d5a3a"/>
<rect x="1210" y="1520" width="145" height="50" fill="#2f5db5"/>
<g fill="none" stroke="#3a63b3" stroke-width="3" stroke-dasharray="3 9">
<path d="M220,640 C240,520 300,430 370,380"/><path d="M275,680 C340,690 400,680 440,665"/><path d="M270,880 C300,830 290,780 275,745"/>
<path d="M360,1110 C420,1080 480,1070 600,1080"/><path d="M730,1115 C900,1080 1050,1030 1210,995"/>
<path d="M1270,995 C1200,960 1100,900 1010,795"/><path d="M1270,740 C1240,700 1230,670 1205,650"/>
<path d="M1120,530 C1080,480 1050,440 1040,380"/><path d="M1275,255 C1220,265 1160,265 1110,255"/>
<path d="M1455,235 C1480,280 1480,330 1465,360"/><path d="M650,1060 V520"/><path d="M795,745 C760,745 735,770 735,800"/>
<path d="M600,1120 C590,1150 585,1180 585,1210"/><path d="M825,1195 H875"/><path d="M260,1390 H325"/>
<path d="M1000,1495 C1060,1495 1110,1505 1150,1520"/><path d="M1370,1455 H1420"/><path d="M1175,60 H1240"/>
<path d="M590,45 H905"/>
</g>
<g fill="#3a63b3"><rect x="1340" y="350" width="5" height="14"/><rect x="1370" y="370" width="5" height="14"/><rect x="1400" y="355" width="5" height="14"/><rect x="1360" y="410" width="5" height="14"/><rect x="1390" y="430" width="5" height="14"/><rect x="1350" y="460" width="5" height="14"/><rect x="1380" y="490" width="5" height="14"/><rect x="1370" y="540" width="5" height="14"/><rect x="1370" y="575" width="5" height="14"/></g>
<g fill="#3a63b3"><circle cx="600" cy="45" r="8"/><circle cx="625" cy="48" r="8"/><circle cx="650" cy="42" r="7"/><circle cx="680" cy="48" r="7"/><circle cx="710" cy="44" r="5"/></g>
<text x="1445" y="1290" transform="rotate(90 1445 1290)" font-family="Liberation Serif" font-size="26" fill="#3a63b3">ASIM VERDEEN.</text>
</svg>

<!-- Gray text panel -->
<div id="gray"><pre><span>DISTINCT.↵/<span class="r">●</span> <span class="g">■ AGAINST THE DARK.</span> AGAINST</span>
THE DARK.↵/<span class="r">●</span> <span class="g">■ A TALL WHITE FOUNTAIN</span>
<span class="g">PLAYED.</span>  A TALL WHITE FOUNTAIN PLAYED.↵/<span class="r">●</span>
<span class="g">■  YOU'RE NOT EVEN CLOSE TO BASELINE.</span>

















<span class="g">■  CELLS.</span>  CELLS.↵/<span class="n">●</span> <span class="g">HAVE YOU EVER BEEN</span>
<span class="g">IN AN INSTITUTION? CELLS.</span>  CELLS.↵/<span class="n">●</span> <span class="g">WHEN</span>
<span class="g">YOU'RE NOT PERFORMING YOUR DUTIES DO</span>
<span class="g">THEY KEEP YOU IN A LITTLE BOX? CELLS.</span>
CELLS.↵/<span class="n">●</span> <span class="g">■ INTERLINKED.</span>  INTERLINKED.↵/<span class="n">●</span>
<span class="g">WHAT'S IT LIKE TO HOLD THE HAND OF</span>
<span class="g">SOMEONE YOU LOVE? INTERLINKED.</span>
···INTERLINKED.↵/<span class="r">●</span> <span class="g">■ WITHIN CELLS</span>
<span class="g">INTERLINKED.</span>  WITHIN CELLS INTERLINKED.↵/<span class="r">●</span>
<span class="g">■  DREADFULLY.</span>  DREADFULLY.↵/<span class="r">●</span> <span class="g">WHAT'S IT</span>
<span class="g">LIKE TO BE FILLED WITH DREAD?</span>
<span class="g">DREADFULLY.</span>  DREADFULLY.↵/<span class="r">●</span> <span class="g">DO YOU LIKE</span>
<span class="g">BEING SEPARATED FROM OTHER PEOPLE?</span>
<span class="g">■  DISTINCT.</span>  DISTINCT.↵/<span class="r">●</span> <span class="g">DREADFULLY</span>
<span class="g">DISTINCT.</span>  DREADFULLY DISTINCT.↵/<span class="r">●</span> <span class="g">■  DARK.</span>
DARK.↵/<span class="r">●</span> <span class="g">■ WITHIN CELLS INTERLINKED.</span>
WITHIN CELLS INTERLINKED.↵/<span class="r">●</span> <span class="g">■ WITHIN</span>
<span class="g">ONE STEM.</span>  WITHIN ONE STEM.↵/<span class="r">●</span> <span class="g">■ AND</span>
<span class="g">DREADFULLY DISTINCT.</span>  AND DREADFULLY
DISTINCT.↵/<span class="r">●</span> <span class="g">■ AGAINST THE DARK.</span>  AGAINST</pre>
<div class="abs" style="left:398px;top:68px;width:13px;height:13px;border-radius:50%;background:#17c36a"></div>
<div class="abs" style="left:187px;top:181px;width:13px;height:13px;border-radius:50%;background:#e8222b"></div>
<div class="abs" style="left:31px;top:291px;font:4px 'Liberation Mono',monospace;color:#aab;line-height:4px">BR-HLS/SIXISDHD/MREICOTIT<br>BASELINE TRANSCRIPT 8<br>END</div>
<div class="abs" style="left:31px;top:341px;font:4px 'Liberation Mono',monospace;color:#aab;line-height:4px">BR-HLS/SIXISDHD/MREICOTIT<br>BASELINE TRANSCRIPT 8<br>START</div>
</div>

<!-- Schematic -->
<div class="abs" style="left:1322px;top:827px;width:511px;height:707px;background:#ebe8e0"></div>
<svg style="left:1336px;top:835px" width="516" height="715" viewBox="0 0 1548 1568" preserveAspectRatio="none">
<rect x="1340" y="-20" width="150" height="1550" fill="#e3dfd6"/>
<g fill="#b9b6b0"><rect x="1340" y="980" width="150" height="10"/><rect x="1340" y="1010" width="150" height="8"/><rect x="1340" y="985" width="10" height="140"/><rect x="1400" y="985" width="10" height="140"/><rect x="1425" y="1120" width="65" height="20"/></g>
<g stroke="#2a2a2a" fill="none">
<path d="M385,250 V160 H757 V262" stroke-width="14"/>
<path d="M805,315 V410" stroke-width="14"/><path d="M385,410 V520" stroke-width="14"/><path d="M805,475 V500" stroke-width="12"/>
<path d="M425,532 H528 M692,532 H785" stroke-width="10"/>
<path d="M205,292 H332 M205,305 H332 M205,318 H332 M205,331 H332 M205,344 H332" stroke-width="3"/>
<path d="M840,275 H1050" stroke-width="4" stroke-dasharray="14 8"/>
<path d="M1150,280 H1215" stroke-width="6"/>
<path d="M130,385 V940 Q130,945 145,945 H190" stroke-width="3"/>
<path d="M130,640 Q130,625 150,625 H985 Q1000,625 1000,610 V315 Q1000,300 1015,300 H1055 M1000,440 H970 M845,300 H985" stroke-width="3"/>
<path d="M345,400 V480 Q345,500 325,505 H140 Q130,505 130,520" stroke-width="3"/>
<path d="M405,555 V620 M615,565 V620 M810,545 V620" stroke-width="3"/>
<path d="M100,815 H243 M418,815 H995 M330,832 V860 M418,880 H483 M570,900 V925" stroke-width="3"/>
<path d="M657,943 H850 Q875,943 875,970 V1050 Q875,1065 860,1065 H758 M810,943 H920 Q935,943 935,960 V1215 M878,1150 H995 M878,1215 H995" stroke-width="3"/>
<path d="M100,930 H130" stroke-width="3"/>
</g>
<rect x="332" y="245" width="103" height="167" rx="50" fill="#ebe8e0" stroke="#2a2a2a" stroke-width="4"/>
<rect x="58" y="278" width="147" height="105" fill="#ebe8e0" stroke="#2a2a2a" stroke-width="4"/>
<polygon points="740,255 838,240 842,318 740,302" fill="#ebe8e0" stroke="#2a2a2a" stroke-width="4"/>
<ellipse cx="1100" cy="280" rx="50" ry="35" fill="#ebe8e0" stroke="#2a2a2a" stroke-width="4"/>
<rect x="700" y="410" width="215" height="65" fill="#ebe8e0" stroke="#2a2a2a" stroke-width="4"/>
<rect x="693" y="405" width="14" height="75" fill="#ebe8e0" stroke="#2a2a2a" stroke-width="3"/><rect x="908" y="405" width="14" height="75" fill="#ebe8e0" stroke="#2a2a2a" stroke-width="3"/>
<circle cx="808" cy="520" r="25" fill="#ebe8e0" stroke="#2a2a2a" stroke-width="5"/>
<circle cx="405" cy="532" r="22" fill="#ebe8e0" stroke="#2a2a2a" stroke-width="5"/>
<rect x="528" y="505" width="164" height="60" fill="#ebe8e0" stroke="#2a2a2a" stroke-width="3"/>
<rect x="190" y="720" width="618" height="255" fill="none" stroke="#2a2a2a" stroke-width="9"/>
<rect x="190" y="720" width="128" height="70" fill="#2a2a2a"/>
<rect x="318" y="720" width="490" height="70" fill="#2a2a2a"/>
<rect x="200" y="730" width="105" height="18" fill="#ebe8e0"/>
<rect x="322" y="730" width="474" height="18" fill="#ebe8e0"/><rect x="322" y="758" width="474" height="20" fill="#ebe8e0"/>
<rect x="232" y="975" width="413" height="30" fill="#2a2a2a"/>
<g fill="#2a2a2a"><rect x="243" y="798" width="175" height="34"/><rect x="243" y="860" width="175" height="40"/><rect x="483" y="863" width="174" height="37"/><rect x="483" y="925" width="174" height="35"/><rect x="995" y="795" width="177" height="42"/><rect x="583" y="1032" width="175" height="65"/><rect x="704" y="1132" width="174" height="40"/><rect x="995" y="1132" width="177" height="40"/><rect x="704" y="1197" width="174" height="41"/><rect x="995" y="1197" width="177" height="41"/></g>
<g font-family="Liberation Sans" font-size="13" fill="#333" text-anchor="middle">
<text x="131" y="327">COMBUSTION</text><text x="131" y="341">SYSTEM</text><text x="383" y="331">BOILER</text><text x="788" y="282">TURBINE</text>
<text x="1100" y="238">GENERATOR</text><text x="1190" y="272">POWER</text><text x="1180" y="295">LINE</text>
<text x="806" y="443">CONDENSER</text><text x="610" y="532">DEAERATING</text><text x="610" y="546">TANK</text>
<text x="355" y="530">FEED</text><text x="355" y="545">PUMP</text><text x="900" y="515">CONDENSATE</text><text x="880" y="528">PUMP</text>
<text x="252" y="743" font-size="12">RW-300</text>
</g>
<g font-family="Liberation Sans" font-size="13" fill="#ddd" text-anchor="middle">
<text x="330" y="812">ANALOG INPUT/</text><text x="330" y="826">OUTPUT UNIT</text><text x="330" y="877">MEMORY</text><text x="330" y="891">UNIT</text>
<text x="570" y="878">ARITHMETIC AND</text><text x="570" y="892">CONTROL UNITS</text><text x="570" y="940">DIGITAL INPUT/</text><text x="570" y="954">OUTPUT UNIT</text>
<text x="1083" y="812">TREND</text><text x="1083" y="826">RECORDERS</text><text x="670" y="1063">OPERATOR'S</text><text x="670" y="1077">CONSOLE</text>
<text x="791" y="1149">AUTOMATIC</text><text x="791" y="1163">TYPEWRITER</text><text x="1083" y="1149">LOGGING</text><text x="1083" y="1163">TYPEWRITER</text>
<text x="791" y="1214">ALARM</text><text x="791" y="1228">DEVICES</text><text x="1083" y="1214">MAGNETIC</text><text x="1083" y="1228">TAPE UNIT</text>
</g>
<g font-family="Liberation Sans" font-size="12" fill="#333" text-anchor="end">
<text x="100" y="770">PRESSURES,</text><text x="100" y="783">TEMPERATURES,</text><text x="100" y="796">FLOWS,</text><text x="100" y="809">INTEGRATED</text><text x="100" y="822">TOTALS,</text><text x="100" y="835">ETC.</text>
<text x="100" y="912">POSITIONS:</text><text x="100" y="925">OFF-ON,</text><text x="100" y="938">OPEN-SHUT,</text><text x="100" y="951">ETC.</text>
</g>
<path d="M103,758 H110 V845 H103 M103,900 H110 V955 H103" stroke="#333" stroke-width="2" fill="none"/>
<g font-family="Liberation Sans" font-size="14" fill="#333" letter-spacing="1"><text x="63" y="1185">TYPICAL RW-300 CONTROL SYSTEM</text><text x="80" y="1218">FOR STEAM GENERATING PLANT</text></g>
<rect x="-20" y="1532" width="1580" height="40" fill="#fff"/>
<rect x="1490" y="-20" width="70" height="1600" fill="#fff"/>
<text x="1225" y="1565" font-family="Liberation Serif" font-size="34" fill="#999">1026-16145</text>
</svg>
</body></html>
